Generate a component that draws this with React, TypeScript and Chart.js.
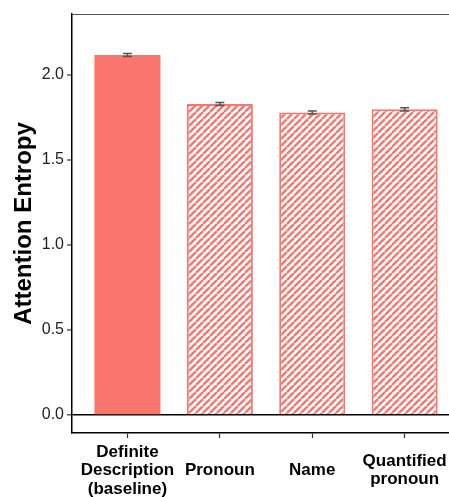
import React, { useEffect, useRef } from "react";
import { Chart, registerables } from "chart.js";

Chart.register(...registerables);

const categories: string[][] = [
  ["Definite", "Description", "(baseline)"],
  ["Pronoun"],
  ["Name"],
  ["Quantified", "pronoun"],
];
const entropyValues: number[] = [2.118, 1.829, 1.779, 1.798];
const entropyErrors: number[] = [0.009, 0.009, 0.009, 0.009];
const yTickValues: number[] = [0, 0.5, 1.0, 1.5, 2.0];
const yAxisTitle = "Attention Entropy";

const RED = "#F8766D";
const FONT = "'Liberation Sans', Arial, Helvetica, sans-serif";

function makeStripePattern(ctx: CanvasRenderingContext2D): CanvasPattern | string {
  const p = 7;
  const c = document.createElement("canvas");
  c.width = p;
  c.height = p;
  const g = c.getContext("2d");
  if (!g) return RED;
  g.fillStyle = "#ffffff";
  g.fillRect(0, 0, p, p);
  g.strokeStyle = RED;
  g.lineWidth = 2.4;
  for (let k = -1; k <= 1; k++) {
    g.beginPath();
    g.moveTo(k * p, p);
    g.lineTo(k * p + p, 0);
    g.stroke();
  }
  return ctx.createPattern(c, "repeat") || RED;
}

const errorBarPlugin = {
  id: "errorBars",
  afterDatasetsDraw(chart: any) {
    const { ctx, scales } = chart;
    const xs = scales.x;
    const ys = scales.y;
    ctx.save();
    ctx.strokeStyle = "#555555";
    ctx.lineWidth = 1.5;
    entropyValues.forEach((v, i) => {
      const x = xs.getPixelForValue(i + 1);
      const yLo = ys.getPixelForValue(v - entropyErrors[i]);
      const yHi = ys.getPixelForValue(v + entropyErrors[i]);
      ctx.beginPath();
      ctx.moveTo(x, yLo);
      ctx.lineTo(x, yHi);
      ctx.moveTo(x - 4.5, yLo);
      ctx.lineTo(x + 4.5, yLo);
      ctx.moveTo(x - 4.5, yHi);
      ctx.lineTo(x + 4.5, yHi);
      ctx.stroke();
    });
    ctx.restore();
  },
};

const topBorderPlugin = {
  id: "topBorder",
  afterDraw(chart: any) {
    const { ctx, chartArea } = chart;
    ctx.save();
    ctx.strokeStyle = "#555555";
    ctx.lineWidth = 1;
    ctx.beginPath();
    ctx.moveTo(chartArea.left, chartArea.top + 0.5);
    ctx.lineTo(chartArea.right, chartArea.top + 0.5);
    ctx.stroke();
    ctx.restore();
  },
};

export default function App() {
  const canvasRef = useRef<HTMLCanvasElement | null>(null);

  useEffect(() => {
    const canvas = canvasRef.current;
    if (!canvas) return;
    const ctx = canvas.getContext("2d");
    if (!ctx) return;
    const stripes = makeStripePattern(ctx);

    const chart = new Chart(canvas, {
      type: "bar",
      data: {
        datasets: [
          {
            data: entropyValues.map((v, i) => ({ x: i + 1, y: v })),
            backgroundColor: entropyValues.map((_, i) => (i === 0 ? RED : stripes)) as any,
            borderColor: entropyValues.map(() => RED),
            borderWidth: entropyValues.map((_, i) => (i === 0 ? 0 : 2)),
            categoryPercentage: 1,
            barPercentage: 0.715,
          } as any,
        ],
      },
      options: {
        animation: false,
        responsive: false,
        maintainAspectRatio: false,
        layout: { padding: { top: 14, right: 0, left: 0, bottom: 0 } },
        plugins: {
          legend: { display: false },
          tooltip: { enabled: false },
        },
        scales: {
          x: {
            type: "linear",
            min: 0.4,
            max: 4.48,
            offset: false,
            afterBuildTicks: (scale: any) => {
              scale.ticks = categories.map((_, i) => ({ value: i + 1 }));
            },
            afterFit: (scale: any) => {
              scale.height = 64;
              scale.paddingLeft = 0;
              scale.paddingRight = 0;
            },
            border: { display: true, color: "#000000", width: 1.5 },
            grid: {
              offset: false,
              drawOnChartArea: false,
              drawTicks: true,
              tickLength: 5,
              tickColor: "#333333",
              tickWidth: 1.2,
            },
            ticks: {
              autoSkip: false,
              maxRotation: 0,
              minRotation: 0,
              padding: 14,
              crossAlign: "center",
              color: "#000000",
              font: { family: FONT, size: 17, weight: "bold", lineHeight: 1.09 },
              callback: (_v: any, index: number) => categories[index],
            },
          } as any,
          y: {
            type: "linear",
            min: -0.106,
            max: 2.359,
            afterBuildTicks: (scale: any) => {
              scale.ticks = yTickValues.map((v) => ({ value: v }));
            },
            afterFit: (scale: any) => {
              scale.width = 72;
            },
            border: { display: true, color: "#000000", width: 1.5 },
            grid: {
              drawOnChartArea: true,
              drawTicks: true,
              tickLength: 5,
              tickColor: "#333333",
              tickWidth: 1.2,
              color: (c: any) => (c.tick && c.tick.value === 0 ? "#000000" : "rgba(0,0,0,0)"),
              lineWidth: (c: any) => (c.tick && c.tick.value === 0 ? 1.6 : 0),
            },
            title: {
              display: true,
              text: yAxisTitle,
              color: "#000000",
              font: { family: FONT, size: 24, weight: "bold" },
              padding: { top: 10, bottom: 0 },
            },
            ticks: {
              padding: 3,
              color: "#222222",
              font: { family: FONT, size: 16 },
              callback: (v: any) => Number(v).toFixed(1),
            },
          } as any,
        },
      },
      plugins: [errorBarPlugin, topBorderPlugin],
    });

    return () => chart.destroy();
  }, []);

  return (
    <div style={{ position: "absolute", left: 0, top: 0, width: 449, height: 497, background: "#ffffff" }}>
      <canvas ref={canvasRef} width={449} height={497} style={{ width: 449, height: 497, display: "block" }} />
    </div>
  );
}
